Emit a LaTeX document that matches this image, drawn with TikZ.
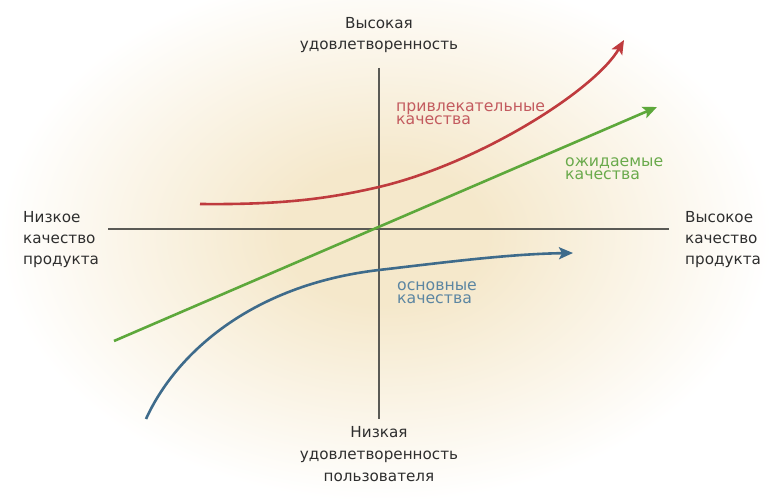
\documentclass[tikz,border=0pt]{standalone}
\usepackage{fontspec}
\setmainfont{DejaVu Sans}
\usetikzlibrary{arrows.meta}
\definecolor{glowc}{HTML}{F5E8CB}
\definecolor{axisc}{HTML}{5A5A55}
\definecolor{labc}{HTML}{2E2E2E}
\definecolor{redl}{HTML}{BF3B3E}
\definecolor{redt}{HTML}{C35B5F}
\definecolor{greenl}{HTML}{5DA83B}
\definecolor{greent}{HTML}{6AAA4C}
\definecolor{bluel}{HTML}{3E6B8B}
\definecolor{bluet}{HTML}{5C86A2}
\pgfdeclareradialshading{glow}{\pgfpoint{0bp}{0bp}}{color(0bp)=(glowc); color(6bp)=(glowc); color(23bp)=(white); color(50bp)=(white)}
\tikzset{
  lbl/.style={font=\fontsize{15.2}{17}\selectfont, text=labc, inner sep=0pt},
  clbl/.style={font={\fontsize{15.7}{13.5}\selectfont\lineskiplimit=-20pt}, inner sep=0pt, anchor=base west, align=left},
  axisline/.style={draw=axisc, line width=2pt},
  curve/.style={line width=2.6pt, -{Stealth[length=14pt,width=12pt,inset=3pt]}},
}
\begin{document}
\begin{tikzpicture}[x=1pt,y=-1pt]
\useasboundingbox (0,0) rectangle (772,502);
\fill[white] (0,0) rectangle (772,502);
\shade[shading=glow] (385,235) ellipse [x radius=420, y radius=290];

% axes
\coordinate (vtop) at (379,68);
\coordinate (vbot) at (379,419);
\coordinate (hl) at (108,229);
\coordinate (hr) at (669,229);
\draw[axisline] (vtop) -- (vbot);
\draw[axisline] (hl) -- (hr);

% curves
\coordinate (rs) at (200,204);
\coordinate (rm) at (379,187);
\coordinate (re) at (624,40);
\draw[curve, draw=redl, -{Stealth[length=14pt,width=12pt,inset=3pt,fill=redl]}] (rs) .. controls (290,205) and (335,197) .. (rm) .. controls (480,163) and (595,90) .. (re);

\coordinate (gs) at (114,341);
\coordinate (ge) at (657,107);
\draw[curve, draw=greenl] (gs) -- (ge);

\coordinate (bs) at (146,419);
\coordinate (bm) at (379,270);
\coordinate (be) at (573,253);
\draw[curve, draw=bluel] (bs) .. controls (175,355) and (250,285) .. (bm) .. controls (450,261.7) and (510,254) .. (be);

% axis labels
\node[lbl, anchor=base] (t1) at (379,29) {Высокая};
\node[lbl, anchor=base] (t2) at (379,50) {удовлетворенность};
\node[lbl, anchor=base west] (l1) at (23,223) {Низкое};
\node[lbl, anchor=base west] (l2) at (23,244) {качество};
\node[lbl, anchor=base west] (l3) at (23,265) {продукта};
\node[lbl, anchor=base west] (r1) at (685,223) {Высокое};
\node[lbl, anchor=base west] (r2) at (685,244) {качество};
\node[lbl, anchor=base west] (r3) at (685,265) {продукта};
\node[lbl, anchor=base] (b1) at (379,438) {Низкая};
\node[lbl, anchor=base] (b2) at (379,460) {удовлетворенность};
\node[lbl, anchor=base] (b3) at (379,481.5) {пользователя};

% curve labels (anchor = baseline of the second line)
\node[clbl, text=redt] (p) at (396,125) {привлекательные\\качества};
\node[clbl, text=greent] (o) at (565,180) {ожидаемые\\качества};
\node[clbl, text=bluet] (s) at (397,304) {основные\\качества};
\end{tikzpicture}
\end{document}
